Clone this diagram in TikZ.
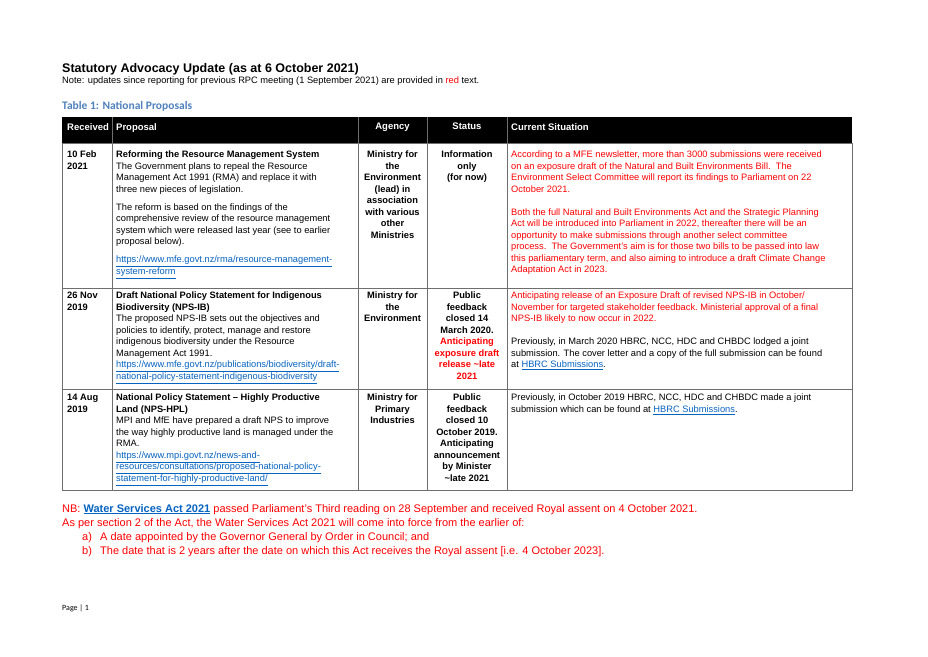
\documentclass[tikz,border=0pt]{standalone}
\usepackage{fontspec}
\setmainfont{Liberation Sans}
\newfontfamily\calib{Carlito}
\definecolor{linkblue}{RGB}{5,99,193}
\definecolor{headblue}{RGB}{79,129,189}
\definecolor{gridgrey}{RGB}{110,110,110}
\newcommand{\lk}[1]{\textcolor{linkblue}{\underline{#1}}}
\begin{document}
\begin{tikzpicture}[x=1pt,y=-1pt,
  cell/.style={anchor=north west,inner sep=0pt,align=left,font=\fontsize{9.3}{11.5}\selectfont},
  ccell/.style={anchor=north,inner sep=0pt,align=center,font=\fontsize{9.3}{11.5}\selectfont\bfseries},
  head/.style={anchor=north west,inner sep=0pt,text=white,font=\fontsize{9.5}{11.5}\selectfont\bfseries},
  foot/.style={anchor=north west,inner sep=0pt,text=red,font=\fontsize{11}{14}\selectfont},
  grid/.style={draw=gridgrey,line width=0.8pt}]
\fill[white] (0,0) rectangle (928,656);
\useasboundingbox (0,0) rectangle (928,656);
% titles
\node[cell,font=\fontsize{12.5}{14}\selectfont\bfseries] (title) at (62,63) {Statutory Advocacy Update (as at 6 October 2021)};
\node[cell,font=\fontsize{9.3}{11}\selectfont] (note) at (62,77) {Note: updates since reporting for previous RPC meeting (1 September 2021) are provided in \textcolor{red}{red} text.};
\node[cell,font=\fontsize{11.5}{13}\selectfont\calib\bfseries,text=headblue] (tab) at (62,101) {Table 1: National Proposals};
% table
\fill[black] (62,117) rectangle (852,143);
\draw[grid] (62,143) rectangle (852,490);
\draw[grid] (62,288) -- (852,288);
\draw[grid] (62,389) -- (852,389);
\foreach \x in {112,358,427,507} {\draw[grid] (\x,143) -- (\x,490); \draw[gridgrey,line width=0.8pt] (\x,117) -- (\x,143);}
\node[head] (h1) at (67,123) {Received};
\node[head] (h2) at (116,123) {Proposal};
\node[head,anchor=north] (h3) at (392.5,123) {Agency};
\node[head,anchor=north] (h4) at (467,123) {Status};
\node[head] (h5) at (511,123) {Current Situation};
% row 1
\node[cell,font=\fontsize{9.3}{11.5}\selectfont\bfseries] (r1a) at (67,151) {10 Feb\\2021};
\node[cell] (r1b) at (116,151) {\textbf{Reforming the Resource Management System}\\The Government plans to repeal the Resource\\Management Act 1991 (RMA) and replace it with\\three new pieces of legislation.\\[6.5pt]The reform is based on the findings of the\\comprehensive review of the resource management\\system which were released last year (see to earlier\\proposal below).\\[6.5pt]\lk{https://www.mfe.govt.nz/rma/resource-management-}\\\lk{system-reform}};
\node[ccell] (r1c) at (392.5,151) {Ministry for\\the\\Environment\\(lead) in\\association\\with various\\other\\Ministries};
\node[ccell] (r1d) at (467,151) {Information\\only\\(for now)};
\node[cell,text=red] (r1e) at (511,151) {According to a MFE newsletter, more than 3000 submissions were received\\on an exposure draft of the Natural and Built Environments Bill.\ \ The\\Environment Select Committee will report its findings to Parliament on 22\\October 2021.\\[11.5pt]Both the full Natural and Built Environments Act and the Strategic Planning\\Act will be introduced into Parliament in 2022, thereafter there will be an\\opportunity to make submissions through another select committee\\process.\ \ The Government's aim is for those two bills to be passed into law\\this parliamentary term, and also aiming to introduce a draft Climate Change\\Adaptation Act in 2023.};
% row 2
\node[cell,font=\fontsize{9.3}{11.5}\selectfont\bfseries] (r2a) at (67,292) {26 Nov\\2019};
\node[cell] (r2b) at (116,292) {\textbf{Draft National Policy Statement for Indigenous}\\\textbf{Biodiversity (NPS-IB)}\\The proposed NPS-IB sets out the objectives and\\policies to identify, protect, manage and restore\\indigenous biodiversity under the Resource\\Management Act 1991.\\\lk{https://www.mfe.govt.nz/publications/biodiversity/draft-}\\\lk{national-policy-statement-indigenous-biodiversity}};
\node[ccell] (r2c) at (392.5,292) {Ministry for\\the\\Environment};
\node[ccell] (r2d) at (467,292) {Public\\feedback\\closed 14\\March 2020.\\\textcolor{red}{Anticipating}\\\textcolor{red}{exposure draft}\\\textcolor{red}{release \textasciitilde late}\\\textcolor{red}{2021}};
\node[cell,text=red] (r2e) at (511,292) {Anticipating release of an Exposure Draft of revised NPS-IB in October/\\November for targeted stakeholder feedback.\ Ministerial approval of a final\\NPS-IB likely to now occur in 2022.};
\node[cell] (r2f) at (511,338) {Previously, in March 2020 HBRC, NCC, HDC and CHBDC lodged a joint\\submission. The cover letter and a copy of the full submission can be found\\at \lk{HBRC Submissions}.};
% row 3
\node[cell,font=\fontsize{9.3}{11.5}\selectfont\bfseries] (r3a) at (67,394) {14 Aug\\2019};
\node[cell] (r3b) at (116,394) {\textbf{National Policy Statement -- Highly Productive}\\\textbf{Land (NPS-HPL)}\\MPI and MfE have prepared a draft NPS to improve\\the way highly productive land is managed under the\\RMA.\\\lk{https://www.mpi.govt.nz/news-and-}\\\lk{resources/consultations/proposed-national-policy-}\\\lk{statement-for-highly-productive-land/}};
\node[ccell] (r3c) at (392.5,394) {Ministry for\\Primary\\Industries};
\node[ccell] (r3d) at (467,394) {Public\\feedback\\closed 10\\October 2019.\\Anticipating\\announcement\\by Minister\\\textasciitilde late 2021};
\node[cell] (r3e) at (511,394) {Previously, in October 2019 HBRC, NCC, HDC and CHBDC made a joint\\submission which can be found at \lk{HBRC Submissions}.};
% footer
\node[foot] (f1) at (62,504) {NB: \textcolor{linkblue}{\underline{\textbf{Water Services Act 2021}}} passed Parliament's Third reading on 28 September and received Royal assent on 4 October 2021.};
\node[foot] (f2) at (62,518) {As per section 2 of the Act, the Water Services Act 2021 will come into force from the earlier of:};
\node[foot] (f3) at (82,532) {a)};
\node[foot] (f3b) at (100,532) {A date appointed by the Governor General by Order in Council; and};
\node[foot] (f4) at (82,546) {b)};
\node[foot] (f4b) at (100,546) {The date that is 2 years after the date on which this Act receives the Royal assent [i.e. 4 October 2023].};
\node[cell,font=\fontsize{8}{10}\selectfont\calib] (page) at (62,605) {Page | 1};
\end{tikzpicture}
\end{document}
